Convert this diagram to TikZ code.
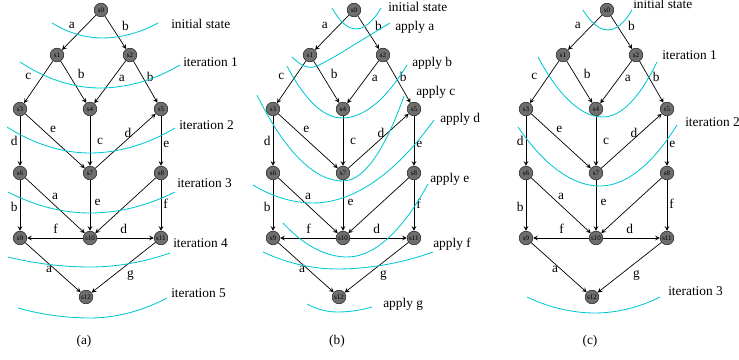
\documentclass[tikz,border=0pt]{standalone}
\usepackage{fontspec}
\setmainfont{Liberation Serif}
\usetikzlibrary{arrows}
\definecolor{cutcolor}{RGB}{0,200,210}
\definecolor{statefill}{RGB}{110,110,110}

\begin{document}
\begin{tikzpicture}[x=0.025cm,y=-0.025cm]
	%defines
	\tikzstyle{state} = [circle, draw=black!85, fill=statefill, minimum size=0.34cm, inner sep=0pt, font=\fontsize{5}{5}\selectfont]
	\tikzstyle{arrow} = [->,>=stealth, line width=0.5pt]
	\tikzstyle{lbl} = [inner sep=1.5pt, font=\fontsize{9.5}{11}\selectfont]
	\tikzstyle{cut} = [draw=cutcolor, line width=0.6pt]
	\tikzstyle{cutname} = [anchor=west, inner sep=0pt, text height=1.5ex, text depth=.25ex, font=\fontsize{9.5}{11}\selectfont]
	\useasboundingbox (0,0) rectangle (739,360);
	%the same state graph in all three panels
	\foreach \p/\dx in {a/0,b/253,c/506} {
		\begin{scope}[shift={(\dx,0)}]
		\node (\p-s0) [state] at (101,10) {s0};
		\node (\p-s1) [state] at (57,55) {s1};
		\node (\p-s2) [state] at (130,55) {s2};
		\node (\p-s3) [state] at (20,109) {s3};
		\node (\p-s4) [state] at (90,109) {s4};
		\node (\p-s5) [state] at (161,109) {s5};
		\node (\p-s6) [state] at (20,173) {s6};
		\node (\p-s7) [state] at (90,173) {s7};
		\node (\p-s8) [state] at (161,173) {s8};
		\node (\p-s9) [state] at (20,238) {s9};
		\node (\p-s10) [state] at (90,238) {s10};
		\node (\p-s11) [state] at (161,238) {s11};
		\node (\p-s12) [state] at (86,297) {s12};
		\draw [arrow] (\p-s0) -- node[lbl,pos=0.3,left=6pt] {a} (\p-s1);
		\draw [arrow] (\p-s0) -- node[lbl,pos=0.3,right=6pt] {b} (\p-s2);
		\draw [arrow] (\p-s1) -- node[lbl,pos=0.37,left=6pt] {c} (\p-s3);
		\draw [arrow] (\p-s1) -- node[lbl,pos=0.3,right=5pt] {b} (\p-s4);
		\draw [arrow] (\p-s2) -- node[lbl,pos=0.41,right=2.5pt] {a} (\p-s4);
		\draw [arrow] (\p-s2) -- node[lbl,pos=0.37,right=1.5pt] {b} (\p-s5);
		\draw [arrow] (\p-s3) -- node[lbl,pos=0.5,left] {d} (\p-s6);
		\draw [arrow] (\p-s3) -- node[lbl,pos=0.47,above=3.3pt] {e} (\p-s7);
		\draw [arrow] (\p-s4) -- node[lbl,pos=0.5,right=3.4pt] {c} (\p-s7);
		\draw [arrow] (\p-s7) -- node[lbl,pos=0.54,above=-1pt] {d} (\p-s5);
		\draw [arrow] (\p-s5) -- node[lbl,pos=0.56,right] {e} (\p-s8);
		\draw [arrow] (\p-s6) -- node[lbl,pos=0.52,left] {b} (\p-s9);
		\draw [arrow] (\p-s6) -- node[lbl,pos=0.5,above=2.6pt] {a} (\p-s10);
		\draw [arrow] (\p-s7) -- node[lbl,pos=0.43,right=1.5pt] {e} (\p-s10);
		\draw [arrow] (\p-s8) -- (\p-s10);
		\draw [arrow] (\p-s8) -- node[lbl,pos=0.46,right] {f} (\p-s11);
		\draw [arrow] (\p-s10) -- node[lbl,pos=0.49,above=1.5pt] {f} (\p-s9);
		\draw [arrow] (\p-s10) -- node[lbl,pos=0.47,above=1.5pt] {d} (\p-s11);
		\draw [arrow] (\p-s9) -- node[lbl,pos=0.43,below] {a} (\p-s12);
		\draw [arrow] (\p-s11) -- node[lbl,pos=0.39,below=4.4pt] {g} (\p-s12);
		\node (\p-caption) [lbl] at (84,341) {(\p)};
		\end{scope}
	}
	%(a) cuts per iteration
	\draw [cut] (52,23) parabola bend (102,38) (158,23);
	\draw [cut] (20,62) parabola bend (100,88) (180,65);
	\draw [cut] (7,127) parabola bend (90,153) (175,128);
	\draw [cut] (8,192) parabola bend (90,213) (175,192);
	\draw [cut] (8,257) parabola bend (90,267) (170,253);
	\draw [cut] (18,308) parabola bend (90,318) (167,298);
	\node (a-init) [cutname] at (171,24) {initial state};
	\node (a-it1) [cutname] at (183,62) {iteration 1};
	\node (a-it2) [cutname] at (179,125) {iteration 2};
	\node (a-it3) [cutname] at (177,183) {iteration 3};
	\node (a-it4) [cutname] at (173,243) {iteration 4};
	\node (a-it5) [cutname] at (171,293) {iteration 5};
	%(b) cuts per operation
	\draw [cut] (332,8) parabola bend (356,29) (381,8);
	\draw [cut] plot[smooth] coordinates {(292,57) (302,65) (314,67) (334,57) (362,40) (390,23)};
	\draw [cut] (287,66) parabola bend (342,118) (407,65);
	\draw [cut] (257,95) parabola bend (343,181) (404,96);
	\draw [cut] (253,185) parabola bend (313,203) (434,120);
	\draw [cut] (283,223) parabola bend (347,257) (428,184);
	\draw [cut] (263,252) parabola bend (337,269) (433,252);
	\draw [cut] (307,304) parabola bend (337,312) (372,307);
	\node (b-init) [cutname] at (388,7) {initial state};
	\node (b-a) [cutname] at (395,26) {apply a};
	\node (b-b) [cutname] at (412,62) {apply b};
	\node (b-c) [cutname] at (416,91) {apply c};
	\node (b-d) [cutname] at (440,118) {apply d};
	\node (b-e) [cutname] at (430,178) {apply e};
	\node (b-f) [cutname] at (433,243) {apply f};
	\node (b-g) [cutname] at (383,303) {apply g};
	%(c) cuts per iteration
	\draw [cut] (583,10) parabola bend (608,30) (632,10);
	\draw [cut] (538,57) parabola bend (603,117) (657,62);
	\draw [cut] (518,127) parabola bend (600,186) (677,125);
	\draw [cut] (527,297) parabola bend (595,313) (660,297);
	\node (c-init) [cutname] at (633,4.5) {initial state};
	\node (c-it1) [cutname] at (662,55) {iteration 1};
	\node (c-it2) [cutname] at (685,122) {iteration 2};
	\node (c-it3) [cutname] at (668,291) {iteration 3};
\end{tikzpicture}
\end{document}
